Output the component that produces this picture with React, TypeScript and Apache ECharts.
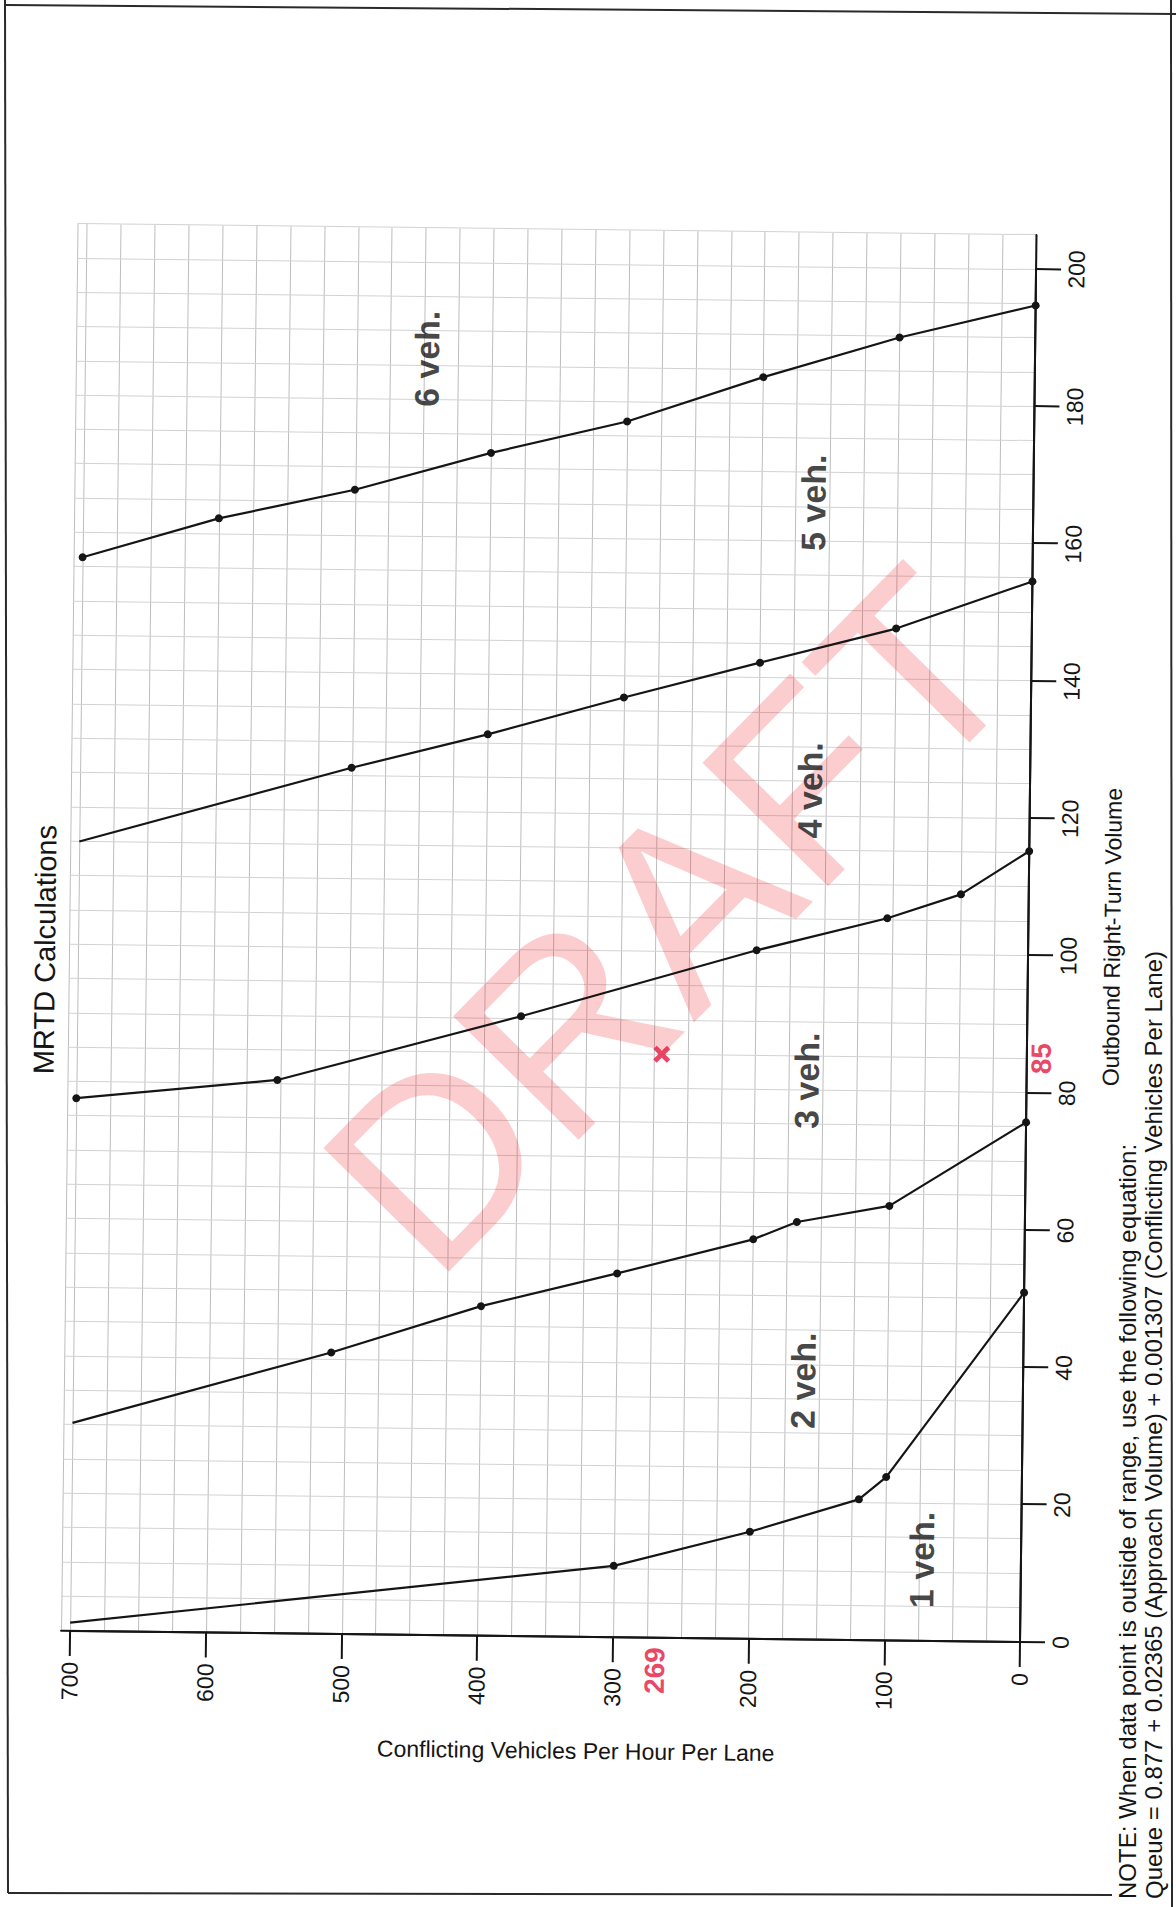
import React, { useEffect, useRef } from "react";
import * as echarts from "echarts";

// ---------- data (Outbound right-turn volume, conflicting vehicles per hour per lane) ----------
const volumeTickValues = [0, 20, 40, 60, 80, 100, 120, 140, 160, 180, 200];
const conflictingTickValues = [0, 100, 200, 300, 400, 500, 600, 700];

const boundary1Volume = [1.2, 10.4, 15.6, 20.5, 23.8, 50.9];
const boundary1Conflicting = [700, 300, 200, 120, 100, 0];
const boundary1Dots = [0, 1, 1, 1, 1, 1];

const boundary2Volume = [30.3, 41.0, 48.0, 53.0, 58.2, 60.8, 63.3, 75.7];
const boundary2Conflicting = [700, 510, 400, 300, 200, 168, 100, 0];
const boundary2Dots = [0, 1, 1, 1, 1, 1, 1, 1];

const boundary3Volume = [77.6, 80.6, 90.3, 100.3, 105.2, 108.8, 115.2];
const boundary3Conflicting = [700, 552, 373, 200, 104, 50, 0];
const boundary3Dots = [1, 1, 1, 1, 1, 1, 1];

const boundary4Volume = [115.0, 126.2, 131.3, 136.9, 142.2, 147.4, 154.5];
const boundary4Conflicting = [700, 500, 400, 300, 200, 100, 0];
const boundary4Dots = [0, 1, 1, 1, 1, 1, 1];

const boundary5Volume = [156.4, 162.3, 166.7, 172.3, 177.1, 183.8, 189.8, 194.7];
const boundary5Conflicting = [700, 600, 500, 400, 300, 200, 100, 0];
const boundary5Dots = [1, 1, 1, 1, 1, 1, 1, 1];

const regionNames = ["1 veh.", "2 veh.", "3 veh.", "4 veh.", "5 veh.", "6 veh."];
const regionVolume = [11.8, 37.7, 81.4, 123.7, 165.6, 185.9];
const regionConflicting = [73, 162, 162, 162, 162, 448];

const pointVolume = [85];
const pointConflicting = [269];

const titleText = "MRTD Calculations";
const volumeAxisName = "Outbound Right-Turn Volume";
const conflictingAxisName = "Conflicting Vehicles Per Hour Per Lane";
const noteLines = [
  "NOTE: When data point is outside of range, use the following equation:",
  "Queue = 0.877 + 0.02365 (Approach Volume) + 0.001307 (Conflicting Vehicles Per Lane)",
];
const watermark = "DRAFT";

// ---------- layout / styling ----------
const FONT = '"Liberation Sans", Arial, Helvetica, sans-serif';
const INK = "#151515";
const RED = "#e3173d";

// the chart is drawn upright in a larger canvas, then the canvas is turned (scanned page is sideways)
const PAD = 40;
const CW = 1907 + 2 * PAD;
const CH = 1176 + 2 * PAD;
const OX = 265 + PAD; // local x of the axes' origin
const OY = 1020 + PAD; // local y of the axes' origin
const PAGE_OX = 1020; // page position of the axes' origin
const PAGE_OY = 1642;
const TURN_DEG = -89.33;
const TC = Math.cos((TURN_DEG * Math.PI) / 180);
const TS = Math.sin((TURN_DEG * Math.PI) / 180);
const DEG = Math.PI / 180;

// page point -> local canvas point
function toLocal(X: number, Y: number): [number, number] {
  const dx = X - PAGE_OX;
  const dy = Y - PAGE_OY;
  return [OX + dx * TC + dy * TS, OY - dx * TS + dy * TC];
}

// rotation (ECharts, counter-clockwise) that makes a local element appear turned by `pageDeg` (ccw) on the page
function pageRotation(pageDeg: number) {
  return (pageDeg + TURN_DEG) * DEG;
}

function buildLine(vol: number[], conf: number[], dots: number[]) {
  return vol.map((v, i) => ({
    value: [v, conf[i]],
    symbol: dots[i] ? "circle" : "none",
  }));
}

function lineSeries(name: string, vol: number[], conf: number[], dots: number[]) {
  return {
    name,
    type: "line",
    xAxisIndex: 1,
    yAxisIndex: 1,
    data: buildLine(vol, conf, dots),
    symbolSize: 8,
    showAllSymbol: true,
    lineStyle: { color: INK, width: 2.2 },
    itemStyle: { color: INK },
    z: 3,
  };
}

function frameLine(points: [number, number][]) {
  return {
    type: "polyline",
    shape: { points: points.map(([X, Y]) => toLocal(X, Y)) },
    style: { stroke: "#2a2a2a", lineWidth: 2, fill: "none" },
    z: 0,
  };
}

export default function App() {
  const ref = useRef<HTMLDivElement>(null);

  useEffect(() => {
    if (!ref.current) return;
    const chart = echarts.init(ref.current, null, { renderer: "svg" });

    const noteRot = pageRotation(90);
    const note1 = toLocal(1128, 1899);
    const note2 = toLocal(1154, 1899);
    const draftAt = toLocal(670, 920);

    const option: any = {
      animation: false,
      backgroundColor: "#ffffff",
      textStyle: { fontFamily: FONT },
      grid: [
        // extended paper grid (volume 0..205, conflicting 0..707)
        { left: OX, top: OY - 959, width: 1407, height: 959, containLabel: false },
        // main scale (volume 0..200, conflicting 0..700)
        { left: OX, top: OY - 950, width: 1373, height: 950, containLabel: false },
      ],
      xAxis: [
        {
          gridIndex: 0,
          type: "value",
          min: 0,
          max: 205,
          interval: 5,
          axisLine: { show: true, onZero: false, lineStyle: { color: INK, width: 2 } },
          axisTick: { show: false },
          axisLabel: { show: false },
          splitLine: { show: true, lineStyle: { color: "#d2d2d2", width: 1 } },
        },
        {
          gridIndex: 1,
          type: "value",
          min: 0,
          max: volumeTickValues[volumeTickValues.length - 1],
          interval: 20,
          axisLine: { show: true, onZero: false, lineStyle: { color: INK, width: 2 } },
          axisTick: { show: true, inside: false, length: 25, lineStyle: { color: INK, width: 2 } },
          axisLabel: { show: true, margin: 29, fontSize: 23, color: INK, fontFamily: FONT },
          splitLine: { show: false },
        },
      ],
      yAxis: [
        {
          gridIndex: 0,
          type: "value",
          min: 0,
          max: 707,
          interval: 25,
          axisLine: { show: true, onZero: false, lineStyle: { color: INK, width: 2 } },
          axisTick: { show: false },
          axisLabel: { show: false },
          splitLine: { show: true, lineStyle: { color: "#bdbdbd", width: 1 } },
        },
        {
          gridIndex: 1,
          type: "value",
          min: 0,
          max: conflictingTickValues[conflictingTickValues.length - 1],
          interval: 100,
          axisLine: { show: true, onZero: false, lineStyle: { color: INK, width: 2 } },
          axisTick: { show: true, inside: false, length: 25, lineStyle: { color: INK, width: 2 } },
          axisLabel: { show: true, margin: 31, fontSize: 23, color: INK, fontFamily: FONT },
          splitLine: { show: false },
        },
      ],
      series: [
        lineSeries("1 veh boundary", boundary1Volume, boundary1Conflicting, boundary1Dots),
        lineSeries("2 veh boundary", boundary2Volume, boundary2Conflicting, boundary2Dots),
        lineSeries("3 veh boundary", boundary3Volume, boundary3Conflicting, boundary3Dots),
        lineSeries("4 veh boundary", boundary4Volume, boundary4Conflicting, boundary4Dots),
        lineSeries("5 veh boundary", boundary5Volume, boundary5Conflicting, boundary5Dots),
        {
          name: "regions",
          type: "scatter",
          xAxisIndex: 1,
          yAxisIndex: 1,
          symbolSize: 1,
          itemStyle: { color: "rgba(0,0,0,0)" },
          data: regionNames.map((n, i) => ({ name: n, value: [regionVolume[i], regionConflicting[i]] })),
          label: {
            show: true,
            position: "inside",
            formatter: (p: any) => p.name,
            fontSize: 34,
            fontWeight: "bold",
            color: INK,
            fontFamily: FONT,
          },
          z: 4,
        },
        {
          name: "data point",
          type: "scatter",
          xAxisIndex: 1,
          yAxisIndex: 1,
          symbol: "path://M0,2 L2,0 L5,3 L8,0 L10,2 L7,5 L10,8 L8,10 L5,7 L2,10 L0,8 L3,5 Z",
          symbolSize: 17,
          itemStyle: { color: RED },
          data: pointVolume.map((v, i) => [v, pointConflicting[i]]),
          z: 5,
        },
        {
          name: "volume readout",
          type: "scatter",
          xAxisIndex: 1,
          yAxisIndex: 1,
          symbolSize: 1,
          itemStyle: { color: "rgba(0,0,0,0)" },
          data: pointVolume.map((v) => [v, 0]),
          label: {
            show: true,
            position: "bottom",
            distance: 0,
            formatter: (p: any) => String(p.value[0]),
            fontSize: 28,
            fontWeight: "bold",
            color: RED,
            fontFamily: FONT,
          },
          z: 5,
        },
        {
          name: "conflicting readout",
          type: "scatter",
          xAxisIndex: 1,
          yAxisIndex: 1,
          symbolSize: 1,
          itemStyle: { color: "rgba(0,0,0,0)" },
          data: pointConflicting.map((c) => [0, c]),
          label: {
            show: true,
            position: "left",
            distance: 9,
            formatter: (p: any) => String(p.value[1]),
            fontSize: 28,
            fontWeight: "bold",
            color: RED,
            fontFamily: FONT,
          },
          z: 5,
        },
      ],
      graphic: [
        // page frame of the scan
        frameLine([[6, 5], [1176, 14]]),
        frameLine([[5, 0], [8, 1893]]),
        frameLine([[8, 1893], [1112, 1895]]),
        frameLine([[1171, 0], [1172, 1907]]),
        {
          type: "text",
          x: 946 + PAD,
          y: 37 + PAD,
          style: {
            text: titleText,
            fontSize: 29,
            fontFamily: FONT,
            fill: INK,
            textAlign: "center",
            textVerticalAlign: "middle",
          },
        },
        {
          type: "text",
          x: 971 + PAD,
          y: 1104 + PAD,
          style: {
            text: volumeAxisName,
            fontSize: 23,
            fontFamily: FONT,
            fill: INK,
            textAlign: "center",
            textVerticalAlign: "middle",
          },
        },
        {
          type: "text",
          x: 151 + PAD,
          y: 577 + PAD,
          rotation: -Math.PI / 2,
          style: {
            text: conflictingAxisName,
            fontSize: 23,
            fontFamily: FONT,
            fill: INK,
            textAlign: "center",
            textVerticalAlign: "middle",
          },
        },
        {
          type: "text",
          x: note1[0],
          y: note1[1],
          rotation: noteRot,
          style: {
            text: noteLines[0],
            fontSize: 24,
            fontFamily: FONT,
            fill: INK,
            textAlign: "left",
            textVerticalAlign: "middle",
          },
        },
        {
          type: "text",
          x: note2[0],
          y: note2[1],
          rotation: noteRot,
          style: {
            text: noteLines[1],
            fontSize: 24,
            fontFamily: FONT,
            fill: INK,
            textAlign: "left",
            textVerticalAlign: "middle",
          },
        },
        {
          type: "text",
          x: draftAt[0],
          y: draftAt[1],
          rotation: pageRotation(45.5),
          z: 1,
          style: {
            text: watermark,
            fontSize: 256,
            fontFamily: FONT,
            fill: "rgba(240,20,30,0.21)",
            textAlign: "center",
            textVerticalAlign: "middle",
          },
        },
      ],
    };

    chart.setOption(option);
    return () => chart.dispose();
  }, []);

  return (
    <div
      style={{
        position: "absolute",
        left: 0,
        top: 0,
        width: 1176,
        height: 1907,
        overflow: "hidden",
        background: "#ffffff",
      }}
    >
      <div
        ref={ref}
        style={{
          position: "absolute",
          left: PAGE_OX - OX,
          top: PAGE_OY - OY,
          width: CW,
          height: CH,
          transformOrigin: `${OX}px ${OY}px`,
          transform: `rotate(${TURN_DEG}deg)`,
        }}
      />
    </div>
  );
}
